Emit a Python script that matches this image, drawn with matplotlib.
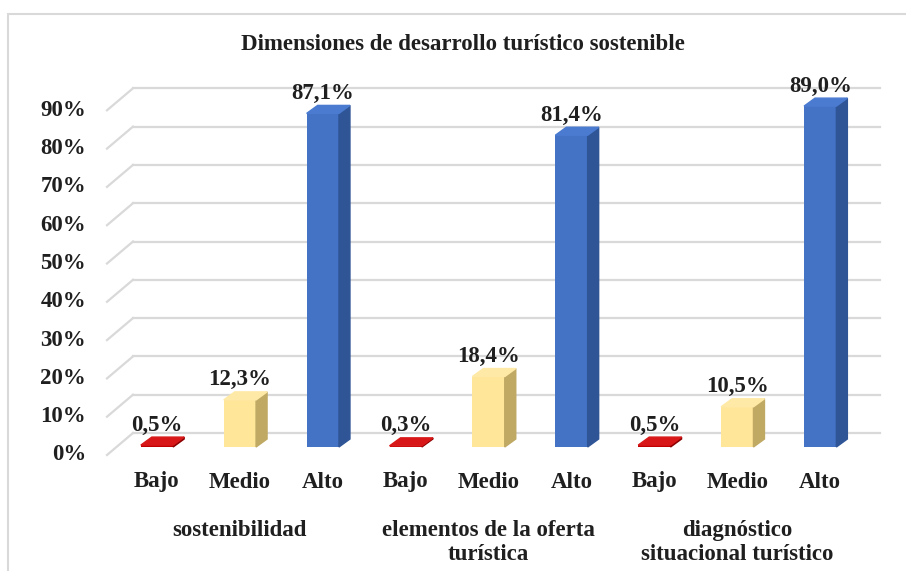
"""Dimensiones de desarrollo turistico sostenible - 3D style bar chart"""
import matplotlib.pyplot as plt
from matplotlib.patches import Polygon, Rectangle

TITLE = "Dimensiones de desarrollo turístico sostenible"
LEVELS = ["Bajo", "Medio", "Alto"]
GROUPS = ["sostenibilidad", "elementos de la oferta\nturística",
          "diagnóstico\nsituacional turístico"]
VALUES = [[0.005, 0.123, 0.871],
          [0.003, 0.184, 0.814],
          [0.005, 0.105, 0.890]]
YTICKS = [0.0, 0.1, 0.2, 0.3, 0.4, 0.5, 0.6, 0.7, 0.8, 0.9]

FRONT = ["#C00000", "#FFE699", "#4472C4"]
SIDE = ["#8B0000", "#BFA963", "#2F5597"]
TOP = ["#D81818", "#FFE9A6", "#4A7BD0"]

plt.rcParams['font.family'] = ['Liberation Serif', 'DejaVu Serif']
plt.rcParams['font.weight'] = 'bold'

W, H = 906, 571
X0, XPX = 157, 82.9      # pixel of first bar centre, pixels per category
Y0, YPX = 447, 383       # pixel of bar base, pixels per 100 %
TXT = "#1f1f1f"


def px(p):
    return (p - X0) / XPX


def py(p):
    return (Y0 - p) / YPX


fig = plt.figure(figsize=(W / 100, H / 100), dpi=100)
ax = fig.add_axes([0, 0, 1, 1])
ax.set_xlim(px(0), px(W))
ax.set_ylim(py(H), py(0))
ax.axis('off')

# chart frame (only left and top edges visible in the crop)
fig.patches.append(Rectangle((8 / W, -0.1), 1.2, 1.1 - 14 / H,
                             transform=fig.transFigure, fill=False,
                             edgecolor="#d9d9d9", lw=1.5))

# back wall gridlines and left wall diagonals
back = 14 / YPX
front = -8 / YPX
for t in YTICKS:
    ax.plot([px(133), px(880)], [t + back, t + back], color="#d9d9d9", lw=1.6, zorder=1)
    ax.plot([px(107), px(133)], [t + front, t + back], color="#d9d9d9", lw=1.6, zorder=1)
    ax.text(px(86), t + front, f"{int(round(t * 100))}%", ha='right', va='center',
            fontsize=16.5, color=TXT)

width = 0.39
dx = 11 / XPX
dy = 8 / YPX
for g, vals in enumerate(VALUES):
    for k, v in enumerate(vals):
        x = g * 3 + k
        ax.bar(x, v, width=width, color=FRONT[k], zorder=3)
        r = x + width / 2
        l = x - width / 2
        ax.add_patch(Polygon([(r, 0), (r + dx, dy), (r + dx, v + dy), (r, v)],
                             closed=True, color=SIDE[k], zorder=3))
        ax.add_patch(Polygon([(l, v), (r, v), (r + dx, v + dy), (l + dx, v + dy)],
                             closed=True, color=TOP[k], zorder=4))
        ax.text(x, v + 20 / YPX, f"{v * 100:.1f}%".replace(".", ","),
                ha='center', va='center', fontsize=16.5, color=TXT, zorder=5)
        ax.text(x, py(482), LEVELS[k], ha='center', va='center',
                fontsize=16.5, color=TXT)
    ax.text(g * 3 + 1, py(520), GROUPS[g], ha='center', va='top',
            fontsize=16.5, color=TXT, linespacing=1.2)

ax.text(px(463), py(45), TITLE, ha='center', va='center', fontsize=16.5,
        color=TXT)

plt.savefig("out.png", dpi=100)
